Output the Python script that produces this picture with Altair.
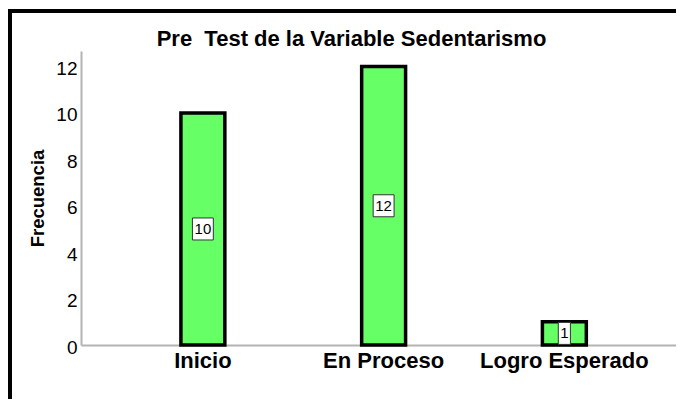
import altair as alt
import pandas as pd

categorias = ["Inicio", "En Proceso", "Logro Esperado"]
frecuencias = [10, 12, 1]
y_ticks = [0, 2, 4, 6, 8, 10, 12]
titulo = "Pre\u00a0 Test de la Variable Sedentarismo"
eje_y = "Frecuencia"

df = pd.DataFrame({"Categoria": categorias, "Frecuencia": frecuencias})

FONT = "Liberation Sans"

xscale = alt.Scale(paddingInner=0.757, paddingOuter=0.5245, align=0.527)
yscale = alt.Scale(domain=[0, 12.67], nice=False, zero=True)

x_axis = alt.Axis(title=None, labelAngle=0, labelFontSize=22, labelFontWeight="bold",
                  labelFont=FONT, labelColor="black", domainColor="#b4b4b4",
                  domainWidth=2, ticks=False, tickSize=0, labelPadding=5)
y_axis = alt.Axis(values=y_ticks, title=eje_y, grid=False, ticks=False, tickSize=0,
                  labelFontSize=19, labelFont=FONT, labelColor="black",
                  labelPadding=4, labelOffset=2, domainColor="#b4b4b4", domainWidth=2,
                  titleFont=FONT, titleFontSize=18.5, titleFontWeight="bold",
                  titleColor="black", titleX=-44, titleY=147, titleAlign="center",
                  titleBaseline="middle", titleAngle=270)

X = alt.X("Categoria:N", sort=categorias, scale=xscale, axis=x_axis)

base = alt.Chart(df)

bars = base.mark_bar(fill="#66FF66", stroke="black", strokeWidth=3.5).encode(
    x=X,
    y=alt.Y("Frecuencia:Q", scale=yscale, axis=y_axis),
)

lab = base.transform_calculate(
    mid="datum.Frecuencia / 2",
    shp="datum.Frecuencia >= 10 ? 'M-0.95,-1H0.95V1H-0.95Z' : 'M-0.55,-1H0.55V1H-0.55Z'",
)

boxes = lab.mark_point(filled=True, fill="white", stroke="#333333", strokeWidth=1,
                       opacity=1, size=484).encode(
    x=X,
    y=alt.Y("mid:Q", scale=yscale, axis=y_axis),
    shape=alt.Shape("shp:N", scale=None),
)

texts = lab.mark_text(fontSize=15, font=FONT, color="black", baseline="middle",
                      align="center").encode(
    x=X,
    y=alt.Y("mid:Q", scale=yscale, axis=y_axis),
    text=alt.Text("Frecuencia:Q"),
)

one = pd.DataFrame({"k": [0]})
frame_left = alt.Chart(one).mark_rule(color="black", strokeWidth=4).encode(
    x=alt.value(-71), y=alt.value(-42), y2=alt.value(360))
frame_top = alt.Chart(one).mark_rule(color="black", strokeWidth=4).encode(
    y=alt.value(-40), x=alt.value(-73), x2=alt.value(600))

title_mark = alt.Chart(one).mark_text(fontSize=22, font=FONT, fontWeight="bold",
                                      color="black", align="center",
                                      baseline="alphabetic").encode(
    x=alt.value(270.5), y=alt.value(-5), text=alt.value(titulo))

chart = alt.layer(bars, boxes, texts, frame_left, frame_top, title_mark).properties(
    width=595, height=294,
    padding={"left": 73, "top": 43, "right": 0, "bottom": 54},
    autosize=alt.AutoSizeParams(type="none"),
).configure_view(stroke=None)

chart.save("out.html", embed_options={"renderer": "svg", "actions": False})
